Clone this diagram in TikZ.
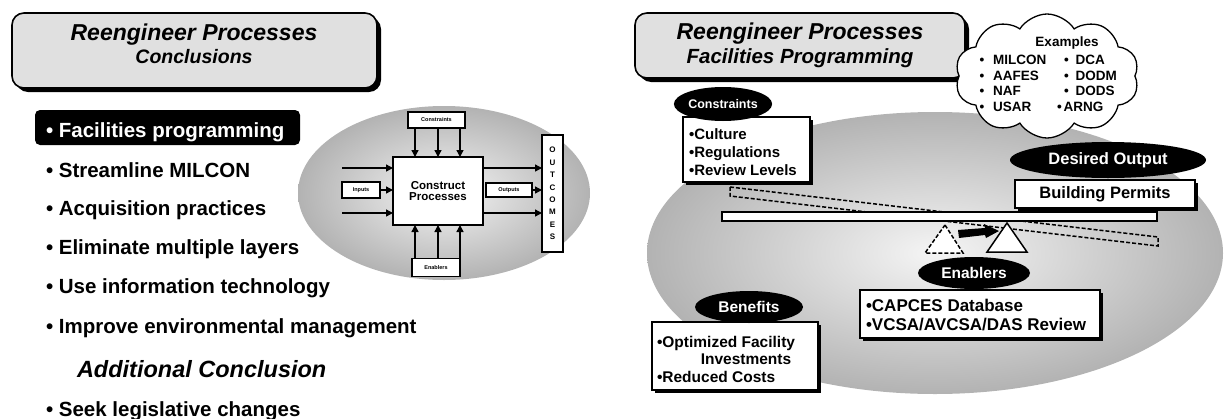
\documentclass[tikz,border=0pt]{standalone}
\usepackage{fontspec}
\setmainfont{Liberation Sans}
\usetikzlibrary{shapes.geometric,shapes.symbols,shadows,arrows.meta}
\newcommand\sz[1]{\fontsize{#1pt}{#1pt}\selectfont}
\begin{document}
\begin{tikzpicture}[x=1pt,y=-1pt,
  every node/.style={inner sep=0pt, outer sep=0pt},
  titlebox/.style={draw, line width=1.6pt, rounded corners=12pt, fill=black!12,
     drop shadow={shadow xshift=4pt, shadow yshift=-4pt, fill=black, opacity=1}},
  bul/.style={anchor=base west, font=\sz{20.5}\bfseries},
  box/.style={draw, fill=white, line width=1.5pt},
  sbox/.style={draw, fill=white, line width=1.3pt, font=\sz{5.5}\bfseries},
  arr/.style={line width=1.4pt, -{Triangle[length=7pt,width=7pt]}},
  rbox/.style={draw, fill=white, line width=1.5pt,
     drop shadow={shadow xshift=3pt, shadow yshift=-3pt, fill=black, opacity=1}},
  lab/.style={ellipse, fill=black, text=white},
  txt/.style={anchor=base west, font=\sz{15}\bfseries},
  ctxt/.style={anchor=west, font=\sz{13.5}\bfseries},
  dsh/.style={line width=1.5pt, dash pattern=on 4pt off 2pt}
]
\useasboundingbox (0,0) rectangle (1224,418);

% ---------------- left panel ----------------
\node[ellipse, minimum width=292pt, minimum height=174pt, shading=radial,
      inner color=black!4, outer color=black!30] (le) at (444,193) {};

\node[titlebox, minimum width=365pt, minimum height=75pt] (ltitle) at (194.5,50.5) {};
\node[font=\sz{23}\bfseries\itshape] (lt1) at (194,35) {Reengineer Processes};
\node[font=\sz{19.5}\bfseries\itshape] (lt2) at (194,57) {Conclusions};

\node[fill=black, rounded corners=5pt, minimum width=265pt, minimum height=35pt] (fpbox) at (167.5,127.5) {};
\node[bul, text=white] (b1) at (46,137) {• Facilities programming};
\node[bul] (b2) at (46,177) {• Streamline MILCON};
\node[bul] (b3) at (46,215) {• Acquisition practices};
\node[bul] (b4) at (46,254) {• Eliminate multiple layers};
\node[bul] (b5) at (46,293) {• Use information technology};
\node[bul] (b6) at (46,333) {• Improve environmental management};
\node[anchor=base west, font=\sz{23.5}\bfseries\itshape] (b7) at (77,377) {Additional Conclusion};
\node[bul] (b8) at (46,416) {• Seek legislative changes};

\node[box, minimum width=90pt, minimum height=68pt, font=\sz{11.5}\bfseries, align=center] (cp) at (438,191) {Construct\\Processes};
\node[sbox, minimum width=57pt, minimum height=16pt] (con) at (436.5,120) {Constraints};
\node[sbox, minimum width=48pt, minimum height=18pt] (ena) at (436,267.5) {Enablers};
\node[sbox, minimum width=38pt, minimum height=16pt] (inp) at (361,190) {Inputs};
\node[sbox, minimum width=46pt, minimum height=14pt] (outp) at (509,190) {Outputs};
\node[sbox, minimum width=21pt, minimum height=117pt, font=\fontsize{8pt}{12.4pt}\selectfont\bfseries, align=center] (outc) at (552.5,193.5) {O\\U\\T\\C\\O\\M\\E\\S};

\coordinate (ax1) at (415,0);
\coordinate (ax2) at (438,0);
\coordinate (ax3) at (460,0);
\foreach \a in {ax1,ax2,ax3} {
  \draw[arr] (con.south -| \a) -- (cp.north -| \a);
  \draw[arr] (ena.north -| \a) -- (cp.south -| \a);
}
\coordinate (i1) at (342,168);
\coordinate (i3) at (342,213);
\draw[arr] (i1) -- (cp.west |- i1);
\draw[arr] (inp.east) -- (cp.west |- inp.east);
\draw[arr] (i3) -- (cp.west |- i3);
\draw[arr] (cp.east |- i1) -- (outc.west |- i1);
\draw[arr] (outp.east) -- (outc.west |- outp.east);
\draw[arr] (cp.east |- i3) -- (outc.west |- i3);

% ---------------- right panel ----------------
\node[ellipse, minimum width=576pt, minimum height=282pt, shading=radial,
      inner color=black!4, outer color=black!30] (re) at (935,253) {};

\node[titlebox, minimum width=330pt, minimum height=65pt] (rtitle) at (800,45.5) {};
\node[font=\sz{23}\bfseries\itshape] (rt1) at (800,34) {Reengineer Processes};
\node[font=\sz{20.5}\bfseries\itshape] (rt2) at (800,58) {Facilities Programming};

\node[cloud, cloud puffs=10, cloud puff arc=115, cloud ignores aspect, draw, line width=1.3pt,
      fill=white, minimum width=184pt, minimum height=124pt] (cloud) at (1047,76) {};
\node[font=\sz{13.5}\bfseries] (ex) at (1067,43) {Examples};
\node[ctxt] (e1) at (979.5,60) {•\hspace{9pt}MILCON};
\node[ctxt] (e2) at (979.5,75.5) {•\hspace{9pt}AAFES};
\node[ctxt] (e3) at (979.5,91) {•\hspace{9pt}NAF};
\node[ctxt] (e4) at (979.5,107) {•\hspace{9pt}USAR};
\node[ctxt] (e5) at (1064,60) {•\hspace{7pt}DCA};
\node[ctxt] (e6) at (1064,75.5) {•\hspace{7pt}DODM};
\node[ctxt] (e7) at (1064,91) {•\hspace{7pt}DODS};
\node[ctxt] (e8) at (1057,107) {•\hspace{2pt}ARNG};

\node[rbox, minimum width=127pt, minimum height=65pt] (cbox) at (746.5,149.5) {};
\node[lab, minimum width=90pt, minimum height=34pt, font=\sz{12.5}\bfseries] (cell) at (723,104) {Constraints};
\node[txt] (c1) at (689,139) {•Culture};
\node[txt] (c2) at (689,157) {•Regulations};
\node[txt] (c3) at (689,175) {•Review Levels};

\draw[dsh] (730,187) -- (1158,237) -- (1158,246) -- (730,196) -- cycle;
\node[draw, fill=white, line width=1.2pt, minimum width=435pt, minimum height=9pt] (beam) at (939.5,216.5) {};
\draw[dsh, fill=white] (945,225) -- (963,253) -- (925,253) -- cycle;
\draw[line width=1.5pt, fill=white] (1007,223) -- (1027,252) -- (987,252) -- cycle;
\fill (958,230) -- (985,228) -- (984,224) -- (999,231) -- (986,238) -- (985,235) -- (959,238) -- cycle;

\node[lab, minimum width=196pt, minimum height=36pt, font=\sz{16.5}\bfseries] (dell) at (1108,160) {Desired Output};
\node[rbox, minimum width=180pt, minimum height=28pt, font=\sz{16.5}\bfseries] (bp) at (1105,194) {Building Permits};

\node[rbox, minimum width=240pt, minimum height=48pt] (ebox) at (980,314) {};
\node[lab, minimum width=112pt, minimum height=32pt, font=\sz{15.5}\bfseries] (eell) at (974,273) {Enablers};
\node[txt, font=\sz{17}\bfseries] (en1) at (866,311) {•CAPCES Database};
\node[txt, font=\sz{17}\bfseries] (en2) at (866,330) {•VCSA/AVCSA/DAS Review};

\node[rbox, minimum width=166pt, minimum height=68pt] (bbox) at (735,356) {};
\node[lab, minimum width=108pt, minimum height=32pt, font=\sz{15.5}\bfseries] (bell) at (749,307) {Benefits};
\node[txt, font=\sz{15.5}\bfseries] (bn1) at (657,347) {•Optimized Facility};
\node[anchor=base, font=\sz{15.5}\bfseries] (bn2) at (746,364) {Investments};
\node[txt, font=\sz{15.5}\bfseries] (bn3) at (657,382) {•Reduced Costs};
\end{tikzpicture}
\end{document}
